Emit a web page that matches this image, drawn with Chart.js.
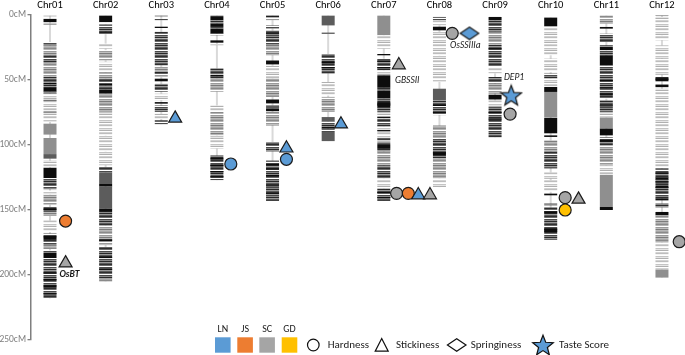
<!DOCTYPE html>
<html><head><meta charset="utf-8">
<script src="https://cdn.jsdelivr.net/npm/chart.js@4/dist/chart.umd.min.js"></script>
<style>html,body{margin:0;padding:0;background:#fff}#wrap{width:685px;height:355px;position:relative}</style>
</head><body><div id="wrap"><canvas id="c"></canvas></div>
<script>
// ---------- DATA ----------
const chrLabels = ['Chr01','Chr02','Chr03','Chr04','Chr05','Chr06','Chr07','Chr08','Chr09','Chr10','Chr11','Chr12'];
const chrStart = [0,0,0,0,0,0,0,1.5,1.5,2,0,0];
const chrEnd   = [218,205,84,127,143,97,143,133,94,173,150,202];
const yTicks = [0,50,100,150,200,250];

// marker-density bands per chromosome: [start cM, end cM, density code]
// K = black, D = dark solid, M = mid solid, d/m/l = dark/mid/light striped
const chr01 = [[0,1,'m'],[3,5.5,'K'],[6.5,7.5,'m'],[20.8,23.3,'d'],[23.3,31,'m'],[31,37,'d'],[37,47.5,'m'],[47.5,52,'d'],[52,53.5,'K'],[53.5,55.5,'d'],[55.5,59,'K'],[59,60.5,'d'],[60.5,82.3,'l'],[65.2,66,'D'],[74.2,75,'D'],[83.6,92,'M'],[94.6,107,'M'],[107,110.5,'D'],[112,117,'l'],[117.5,125.5,'K'],[125.5,134,'d'],[135,138,'l'],[138,146,'m'],[147.7,151.5,'d'],[149,150.5,'K'],[151.5,154.6,'m'],[158,167,'l'],[168,171,'d'],[170,173,'K'],[173,177,'d'],[177,180,'m'],[181,183,'d'],[183,187,'K'],[187,195,'d'],[195,218,'d'],[198,199,'K'],[203,204,'K'],[208,209.5,'K'],[214,215,'K']];
const chr02 = [[0,5.5,'K'],[5.5,7.4,'l'],[7.4,12.5,'d'],[12.5,13.8,'K'],[13.8,14.8,'d'],[22,26,'l'],[27,35,'m'],[36,44,'l'],[44,49,'m'],[49,53,'d'],[53,54.2,'K'],[54.2,57.5,'d'],[57.5,60.5,'K'],[60.5,74.6,'m'],[74.6,92.6,'l'],[92.6,105,'l'],[105,115.6,'l'],[117,121,'d'],[121,130,'D'],[130,132,'K'],[132,149,'D'],[149,151.5,'K'],[151.5,162,'d'],[162,177,'m'],[172.5,174,'K'],[178.5,203,'d'],[186,187,'K'],[195,196,'K'],[203,205,'m']];
const chr03 = [[0,1,'d'],[3,4,'d'],[9,10,'K'],[13,18,'d'],[18,28.5,'d'],[28.5,38.7,'d'],[40,47.7,'m'],[44,45,'K'],[49,51,'K'],[53,59,'d'],[60.5,65.6,'l'],[67,68.2,'K'],[69.5,74.6,'d'],[76,80,'l'],[81,84,'d']];
const chr04 = [[0,1.5,'d'],[1.5,4,'K'],[4,6.7,'d'],[6.7,9.2,'K'],[9.2,10.5,'d'],[10.5,14.4,'K'],[14.4,15.6,'d'],[19.5,21.3,'K'],[22.3,23.3,'l'],[41,46,'d'],[46,47.5,'K'],[47.5,49,'d'],[49,59,'m'],[69.5,74.6,'l'],[74.6,92.6,'m'],[92.6,102.8,'l'],[108,127,'d'],[110,111,'K'],[115,116.5,'K'],[120,121,'K'],[124,125,'K']];
const chr05 = [[0,1.5,'K'],[1.5,4,'m'],[8,10.5,'d'],[12,18,'d'],[14,15,'K'],[18,23,'d'],[23,31,'m'],[35,38,'K'],[39,49,'l'],[49,63,'m'],[65,68,'K'],[69.5,72,'D'],[72,74,'K'],[74.6,85,'m'],[97.7,105,'d'],[112,143,'d'],[114.5,115.5,'K'],[118,119,'K'],[123,124,'K'],[131,132,'K'],[137,138,'K']];
const chr06 = [[0,8,'D'],[13.6,14.6,'d'],[30,45,'d'],[36,37,'K'],[40,41,'K'],[51.5,62,'l'],[63,74.6,'m'],[78.5,82,'D'],[82,86,'d'],[86,87.4,'K'],[87.4,90,'d'],[90,97,'D']];
const chr07 = [[0,15.6,'M'],[15.6,26,'l'],[30,31,'K'],[33.6,42.6,'d'],[35,36,'K'],[40,41,'K'],[42.6,46.4,'l'],[46.4,56,'K'],[56,58,'d'],[58,64.4,'K'],[64.4,74.6,'d'],[67,71,'K'],[74.6,79.7,'l'],[78.3,79.2,'K'],[79.7,86,'d'],[86,97.7,'l'],[88.5,89.5,'K'],[95,96,'K'],[97.7,100,'d'],[100,103,'K'],[103,105,'d'],[105,115.6,'m'],[115.6,126,'d'],[126,133.6,'l'],[133.6,143,'d'],[136,137,'K'],[140,141,'K']];
const chr08 = [[1.5,4,'d'],[4,8,'l'],[9,11.8,'K'],[13,31,'l'],[31,51.5,'l'],[56.7,65.6,'D'],[65.6,77,'d'],[69,70,'K'],[74.5,75.5,'K'],[85,95,'m'],[95,103,'d'],[103,110.5,'d'],[105.5,108,'K'],[110.5,126,'m'],[126,133,'l']];
const chr09 = [[1.5,4,'K'],[4,13,'d'],[13,23,'m'],[23,28.5,'d'],[25.5,26.5,'K'],[28.5,40,'d'],[40,45,'l'],[47.7,52.8,'d'],[52.8,60.5,'m'],[61.3,65,'K'],[65.6,70.8,'l'],[70.8,82.3,'d'],[74.5,75.5,'K'],[79.5,80.5,'K'],[82.3,94,'d']];
const chr10 = [[2,8.5,'K'],[8.5,23,'l'],[23,31,'l'],[33.6,44,'l'],[45,49,'d'],[49,55.4,'l'],[55.4,59.2,'K'],[59.2,78.5,'M'],[79,91,'K'],[92.6,93.8,'K'],[96.4,105,'m'],[105,118,'d'],[121,126,'l'],[127,136,'l'],[137.4,138.7,'K'],[145,146.4,'d'],[148,173,'d'],[151,152.5,'K'],[164,167,'K']];
const chr11 = [[0,6.7,'m'],[9.2,10.5,'K'],[14.4,20.8,'d'],[23.3,24.6,'d'],[24.6,27.2,'K'],[27.2,31,'d'],[31,38.7,'K'],[38.7,42.6,'d'],[42.6,56.7,'d'],[50,51,'K'],[55.5,56.5,'K'],[56.7,64.4,'d'],[60.5,61.5,'K'],[65.6,74.6,'d'],[69.5,70.5,'K'],[74.6,79,'l'],[79,87.4,'M'],[87.4,92.6,'K'],[94,100,'d'],[96,97.5,'K'],[100,115.6,'m'],[115.6,123,'l'],[123,147.7,'M'],[147.7,150,'K']];
const chr12 = [[0,0.8,'K'],[1.5,15.6,'l'],[15.6,19.5,'l'],[23.3,33.6,'l'],[33.6,46,'l'],[47.7,50,'d'],[48.5,51,'K'],[53.5,55.5,'K'],[56.7,82.3,'l'],[82.3,118,'l'],[118,141,'d'],[121,122,'K'],[125,126.5,'K'],[128,129,'K'],[131.5,133,'K'],[141,142.6,'K'],[145,148,'d'],[151.5,154,'K'],[154,175,'m'],[175,196,'l'],[196,202,'M']];
const allBands = [chr01,chr02,chr03,chr04,chr05,chr06,chr07,chr08,chr09,chr10,chr11,chr12];

// QTLs
const qtlChr   = [1,1,3,4,5,5,6,7,7,7,7,7,8,8,9,9,10,10,10,12];
const qtlCM    = [158.5,190.9,79.5,114.6,102.5,111,84,38.5,137.2,137.2,138.5,138.5,14.1,14.1,61.8,76.2,140.5,141.8,150,174.4];
const qtlDx    = [0.28,0.28,0.25,0.25,0.25,0.25,0.23,0.27,0.23,0.44,0.62,0.83,0.23,0.54,0.29,0.27,0.26,0.5,0.26,0.31];
const qtlPop   = ['JS','SC','LN','LN','LN','LN','LN','SC','SC','JS','LN','SC','SC','LN','LN','SC','SC','SC','GD','SC'];
const qtlTrait = ['Hardness','Stickiness','Stickiness','Hardness','Stickiness','Hardness','Stickiness','Stickiness','Hardness','Hardness','Stickiness','Stickiness','Hardness','Springiness','Taste Score','Hardness','Hardness','Stickiness','Hardness','Hardness'];

// gene labels
const geneNames = ['OsBT','GBSSII','OsSSIIIa','DEP1'];
const geneChr   = [1,7,8,9];
const geneCM    = [199.5,50.8,23.8,47.9];
const geneDx    = [0.17,0.2,0.19,0.16];

const popNames = ['LN','JS','SC','GD'];
const traitNames = ['Hardness','Stickiness','Springiness','Taste Score'];

// ---------- STYLE ----------
const popColors = {LN:'#5b9bd5', JS:'#ed7d31', SC:'#a5a5a5', GD:'#ffc000'};
const FONT = "Carlito, Lato, 'Open Sans', sans-serif";
Chart.defaults.font.family = FONT;
const cvs = document.getElementById('c');
const g2 = cvs.getContext('2d');
function makePattern(rows){
  const c=document.createElement('canvas'); c.width=4; c.height=rows.length;
  const g=c.getContext('2d');
  rows.forEach((col,i)=>{g.fillStyle=col; g.fillRect(0,i,4,1);});
  return g2.createPattern(c,'repeat');
}
const fills = {
  K:'#0d0d0d', D:'#5c5c5c', M:'#8f8f8f',
  d: makePattern(['#2e2e2e','#6a6a6a','#ffffff','#4a4a4a','#8a8a8a','#2a2a2a','#9a9a9a','#5a5a5a']),
  m: makePattern(['#8a8a8a','#b4b4b4','#ffffff','#9a9a9a','#c0c0c0','#7c7c7c','#b8b8b8','#a8a8a8']),
  l: makePattern(['#c4c4c4','#e6e6e6','#b0b0b0','#ffffff','#d2d2d2','#bdbdbd','#f4f4f4','#ffffff'])
};
function starPath(g,cx,cy,R,r){
  g.beginPath();
  for(let i=0;i<10;i++){const a=-Math.PI/2+i*Math.PI/5; const rr=i%2?r:R; const px=cx+rr*Math.cos(a), py=cy+rr*Math.sin(a); i?g.lineTo(px,py):g.moveTo(px,py);}
  g.closePath();
}
function diamondPath(g,cx,cy,hw,hh){g.beginPath();g.moveTo(cx-hw,cy);g.lineTo(cx,cy-hh);g.lineTo(cx+hw,cy);g.lineTo(cx,cy+hh);g.closePath();}
function makeStar(fill){const c=document.createElement('canvas');c.width=24;c.height=24;const g=c.getContext('2d');starPath(g,12,12.8,10.8,4.6);g.fillStyle=fill;g.fill();g.lineWidth=1.2;g.strokeStyle='#1b1b1b';g.stroke();return c;}
function makeDiamond(fill){const c=document.createElement('canvas');c.width=22;c.height=16;const g=c.getContext('2d');diamondPath(g,11,8,9.3,6.3);g.fillStyle=fill;g.fill();g.lineWidth=1.2;g.strokeStyle='#1b1b1b';g.stroke();return c;}
const starImg = makeStar(popColors.LN), diamondImg = makeDiamond(popColors.LN);

// ---------- BUILD ----------
const bandData = [];
allBands.forEach((bands,i)=>bands.forEach(b=>bandData.push({x:i+1,y:[b[0],b[1]],c:b[2]})));
const backboneData = chrLabels.map((_,i)=>({x:i+1,y:[chrStart[i],chrEnd[i]]}));
const qtlData = qtlChr.map((c,i)=>({x:c+qtlDx[i], y:qtlCM[i], p:qtlPop[i], t:qtlTrait[i]}));

function pStyle(ctx){const t=ctx.raw&&ctx.raw.t; if(t==='Hardness')return 'circle'; if(t==='Stickiness')return 'triangle'; if(t==='Springiness')return diamondImg; return starImg;}
function pRadius(ctx){const t=ctx.raw&&ctx.raw.t; return t==='Stickiness'?7.5:6;}

const overlay = {
  id:'overlay',
  afterDatasetsDraw(chart){
    const g=chart.ctx, xs=chart.scales.x, ys=chart.scales.y;
    g.save();
    g.fillStyle='#1a1a1a'; g.textBaseline='middle'; g.textAlign='left';
    geneNames.forEach((n,i)=>{
      g.font=(i===0?'italic bold ':'italic ')+'9.5px '+FONT;
      g.fillText(n, xs.getPixelForValue(geneChr[i]+geneDx[i]), ys.getPixelForValue(geneCM[i]));
    });
    // legend
    const sqX=[215,237.3,259.3,281.7];
    g.font='10px '+FONT; g.textAlign='center'; g.fillStyle='#222';
    popNames.forEach((p,i)=>{
      g.fillStyle='#222'; g.fillText(p, sqX[i]+7.8, 329);
      g.fillStyle=popColors[p]; g.fillRect(sqX[i],337.3,15.6,15.4);
    });
    g.strokeStyle='#111'; g.lineWidth=1.2;
    g.beginPath(); g.arc(313.3,345,5.8,0,Math.PI*2); g.stroke();
    g.beginPath(); g.moveTo(381.7,338.5); g.lineTo(388.2,351.2); g.lineTo(375.2,351.2); g.closePath(); g.stroke();
    diamondPath(g,456.7,345,9.3,6.3); g.stroke();
    starPath(g,543,346,10.8,4.6); g.fillStyle=popColors.LN; g.fill(); g.stroke();
    g.fillStyle='#222'; g.textAlign='left'; g.font='11px '+FONT;
    const tx=[327.7,396,470.7,559];
    traitNames.forEach((t,i)=>g.fillText(t,tx[i],345));
    g.restore();
  }
};

new Chart(cvs,{
  type:'bar',
  data:{datasets:[
    {type:'scatter', data:qtlData, order:0, clip:false,
     pointStyle:pStyle, radius:pRadius, hoverRadius:pRadius,
     backgroundColor:ctx=>popColors[ctx.raw&&ctx.raw.p]||'#999', borderColor:'#1b1b1b', borderWidth:1.2},
    {type:'bar', data:bandData, order:1, grouped:false, barPercentage:1, categoryPercentage:0.25, maxBarThickness:13,
     backgroundColor:ctx=>fills[ctx.raw&&ctx.raw.c]||'#888', borderWidth:0},
    {type:'bar', data:backboneData, order:2, grouped:false, barPercentage:1, categoryPercentage:0.25, maxBarThickness:2,
     backgroundColor:'#d9d9d9', borderWidth:0}
  ]},
  options:{
    responsive:true, maintainAspectRatio:false, animation:false,
    layout:{autoPadding:false, padding:{top:0,left:0,right:0,bottom:15}},
    plugins:{legend:{display:false}, tooltip:{enabled:false}},
    scales:{
      x:{type:'linear', position:'top', min:0.6583, max:12.414, offset:false,
         afterBuildTicks:a=>{a.ticks=chrLabels.map((_,i)=>({value:i+1}));},
         afterFit:s=>{s.height=15;},
         ticks:{callback:v=>chrLabels[v-1], color:'#000', font:{size:10.5}, padding:3, maxRotation:0, autoSkip:false},
         grid:{display:false, drawTicks:false}, border:{display:false}},
      y:{type:'linear', reverse:true, min:0, max:250,
         afterBuildTicks:a=>{a.ticks=yTicks.map(v=>({value:v}));},
         afterFit:s=>{s.width=31;},
         ticks:{callback:v=>v+'cM', color:'#7f7f7f', font:{size:9.5}, padding:1.5},
         grid:{display:true, drawOnChartArea:false, drawTicks:true, tickLength:3.5, color:'#7f7f7f', lineWidth:1.3},
         border:{display:true, color:'#7f7f7f', width:1.5}}
    }
  },
  plugins:[overlay]
});
</script></body></html>
